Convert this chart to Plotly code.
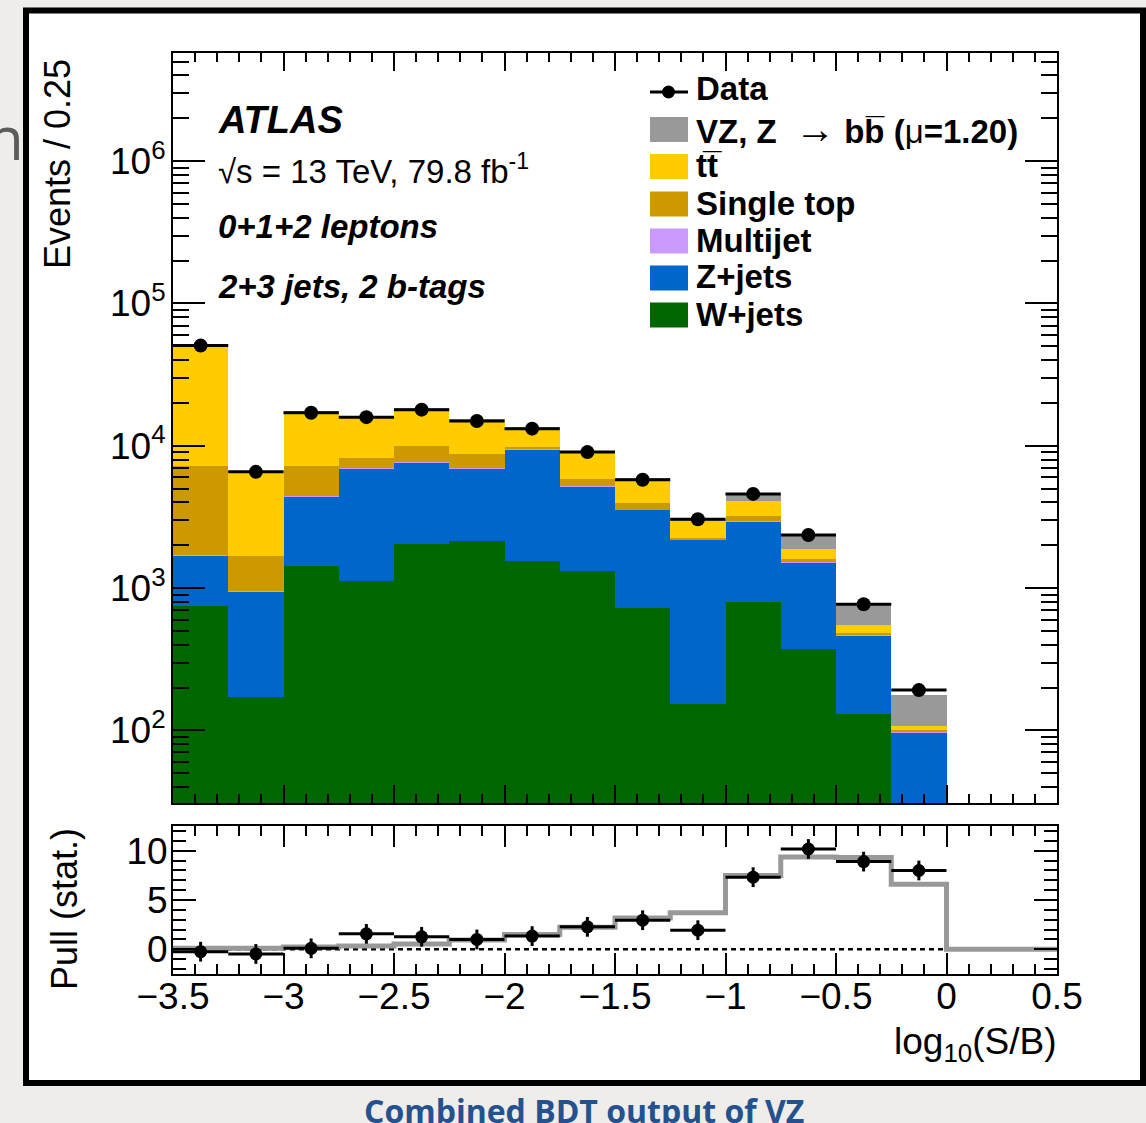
import plotly.graph_objects as go

# ---------------- data ----------------
bin_centers = [-3.375, -3.125, -2.875, -2.625, -2.375, -2.125, -1.875,
               -1.625, -1.375, -1.125, -0.875, -0.625, -0.375, -0.125]
bin_edges = [-3.5, -3.25, -3.0, -2.75, -2.5, -2.25, -2.0, -1.75, -1.5,
             -1.25, -1.0, -0.75, -0.5, -0.25, 0.0, 0.25, 0.5]

wjets = [750, 172, 1436, 1114, 2040, 2155, 1556, 1318, 720, 154, 793, 372, 131, 0]
zjets = [940, 776, 2994, 5856, 5640, 4815, 7824, 3847, 2820, 2026, 2137, 1145, 336, 97]
multijet = [25, 12, 40, 50, 50, 50, 40, 20, 20, 10, 10, 5, 3, 1]
single_top = [5545, 710, 2720, 1160, 2270, 1770, 420, 705, 410, 50, 250, 78, 17, 2]
ttbar = [44140, 4920, 10070, 7850, 8240, 6350, 3440, 3130, 1800, 740, 930, 283, 68, 7]
vz = [60, 20, 50, 60, 80, 80, 90, 100, 100, 70, 470, 457, 228, 71]
data = [50600, 6560, 17060, 15900, 17950, 14930, 13200, 9030, 5770, 3050, 4590, 2360, 771, 192]

pull_data = [-0.24, -0.47, 0.10, 1.57, 1.27, 1.00, 1.34, 2.28, 2.95, 1.94, 7.31, 10.17, 8.89, 7.99]
pull_err = [1.0, 1.0, 1.0, 1.0, 1.0, 1.0, 1.0, 1.0, 1.0, 1.0, 1.0, 1.0, 1.0, 1.0]
pull_expected = [0.10, 0.12, 0.23, 0.33, 0.53, 0.94, 1.50, 2.25, 3.18, 3.72,
                 7.48, 9.35, 9.30, 6.60, 0.0, 0.0]

y_tick_vals = [1e2, 1e3, 1e4, 1e5, 1e6]
y_tick_text = ["10<sup>2</sup>", "10<sup>3</sup>", "10<sup>4</sup>", "10<sup>5</sup>", "10<sup>6</sup>"]

# ---------------- styling ----------------
W, H = 1146, 1123
def px(x):
    return x / W
def py(y):
    return 1 - y / H

FONT = "Liberation Sans, Arial, Helvetica, sans-serif"
C_VZ = "#999999"
C_TT = "#ffcc00"
C_ST = "#cc9900"
C_MJ = "#cc99ff"
C_Z = "#0066cc"
C_W = "#006600"

fig = go.Figure()

stack = [("W+jets", wjets, C_W), ("Z+jets", zjets, C_Z), ("Multijet", multijet, C_MJ),
         ("Single top", single_top, C_ST), ("ttbar", ttbar, C_TT), ("VZ", vz, C_VZ)]
for name, vals, col in stack:
    fig.add_trace(go.Bar(x=bin_centers, y=vals, width=0.25, name=name,
                         marker=dict(color=col, line=dict(width=0)),
                         xaxis="x", yaxis="y", showlegend=False))

fig.add_trace(go.Scatter(x=bin_centers, y=data, mode="markers", name="Data",
                         marker=dict(color="black", size=14),
                         error_x=dict(type="constant", value=0.125, thickness=3,
                                      width=0, color="black"),
                         xaxis="x", yaxis="y", showlegend=False))

# pull panel
fig.add_trace(go.Scatter(x=[bin_edges[0], bin_edges[-1]], y=[0, 0], mode="lines",
                         line=dict(color="black", width=2.5, dash="5px,4px"),
                         xaxis="x2", yaxis="y2", showlegend=False, hoverinfo="skip"))
fig.add_trace(go.Scatter(x=bin_edges, y=pull_expected + [pull_expected[-1]],
                         mode="lines", line=dict(color=C_VZ, width=5, shape="hv"),
                         xaxis="x2", yaxis="y2", showlegend=False))
fig.add_trace(go.Scatter(x=bin_centers, y=pull_data, mode="markers",
                         marker=dict(color="black", size=13),
                         error_x=dict(type="constant", value=0.125, thickness=3,
                                      width=0, color="black"),
                         error_y=dict(type="data", array=pull_err, thickness=3,
                                      width=0, color="black"),
                         xaxis="x2", yaxis="y2", showlegend=False))

axis_common = dict(showline=True, linecolor="black", linewidth=2, mirror="allticks",
                   ticks="inside", tickcolor="black", tickwidth=2, showgrid=False,
                   zeroline=False, automargin=False,
                   tickfont=dict(family=FONT, size=37, color="black"))

fig.update_layout(
    width=W, height=H, margin=dict(l=0, r=0, t=0, b=0, pad=0, autoexpand=False),
    paper_bgcolor="#eeede9", plot_bgcolor="white", showlegend=False,
    barmode="stack", bargap=0,
    xaxis=dict(domain=[px(173), px(1057)], range=[-3.5, 0.5], anchor="y",
               showticklabels=False, tick0=0, dtick=0.5, ticklen=18,
               minor=dict(dtick=0.1, ticklen=9, ticks="inside", tickwidth=2,
                          tickcolor="black", showgrid=False),
               **axis_common),
    yaxis=dict(domain=[py(803), py(53)], type="log", range=[1.49, 6.76], anchor="x",
               tickmode="array", tickvals=y_tick_vals, ticktext=y_tick_text, ticklen=32,
               ticklabelstandoff=-2,
               minor=dict(dtick="D1", ticklen=16, ticks="inside", tickwidth=2,
                          tickcolor="black", showgrid=False),
               **axis_common),
    xaxis2=dict(domain=[px(173), px(1057)], range=[-3.5, 0.5], anchor="y2",
                tick0=0, dtick=0.5, ticklen=21, ticklabelstandoff=-11,
                minor=dict(dtick=0.1, ticklen=10, ticks="inside", tickwidth=2,
                           tickcolor="black", showgrid=False),
                **axis_common),
    yaxis2=dict(domain=[py(974), py(826)], range=[-2.5, 12.5], anchor="x2",
                tickmode="array", tickvals=[0, 5, 10], ticklen=23, ticklabelstandoff=-4,
                minor=dict(dtick=1, ticklen=13, ticks="inside", tickwidth=2,
                           tickcolor="black", showgrid=False),
                **axis_common),
)

shapes = []
# slide frame
shapes.append(dict(type="rect", xref="paper", yref="paper", layer="below",
                   x0=px(26), x1=px(1143), y0=py(1083), y1=py(10.5),
                   fillcolor="white", line=dict(color="black", width=6)))
annotations = []
annotations.append(dict(xref="paper", yref="paper", x=px(26), y=py(137), text="n",
                        showarrow=False, xanchor="right", yanchor="middle",
                        font=dict(family="Open Sans, Lato, sans-serif", size=60, color="#5c5c5c")))

# legend (manual)
arrow = "<span style='font-weight:normal;font-size:40px'>\u2192</span>"
mu = "<span style='font-weight:normal'>\u03bc</span>"
leg_rows = [("VZ, Z  " + arrow + " bb\u0305 (" + mu + "=1.20)", C_VZ, 129.5),
            ("tt\u0305", C_TT, 166.5),
            ("Single top", C_ST, 204),
            ("Multijet", C_MJ, 241),
            ("Z+jets", C_Z, 278),
            ("W+jets", C_W, 315)]
for label, col, yc in leg_rows:
    shapes.append(dict(type="rect", xref="paper", yref="paper",
                       x0=px(650), x1=px(688), y0=py(yc + 12.5), y1=py(yc - 12.5),
                       fillcolor=col, line=dict(width=0)))
    annotations.append(dict(xref="paper", yref="paper", x=px(694), y=py(yc - 1), text="<b>" + label + "</b>",
                            showarrow=False, xanchor="left", yanchor="middle",
                            font=dict(family=FONT, size=33, color="black")))
# Data legend
shapes.append(dict(type="line", xref="paper", yref="paper", x0=px(650), x1=px(688),
                   y0=py(92), y1=py(92), line=dict(color="black", width=3)))
shapes.append(dict(type="circle", xref="paper", yref="paper", x0=px(662), x1=px(675),
                   y0=py(98.5), y1=py(85.5), fillcolor="black", line=dict(width=0)))
annotations.append(dict(xref="paper", yref="paper", x=px(694), y=py(89), text="<b>Data</b>",
                        showarrow=False, xanchor="left", yanchor="middle",
                        font=dict(family=FONT, size=33, color="black")))

# ATLAS labels
atl = [("<b><i>ATLAS</i></b>", 120, 38),
       ("\u221as = 13 TeV, 79.8 fb<sup>-1</sup>", 169, 33),
       ("<b><i>0+1+2 leptons</i></b>", 226, 33),
       ("<b><i>2+3 jets, 2 b-tags</i></b>", 286, 33)]
for txt, yc, fs in atl:
    annotations.append(dict(xref="paper", yref="paper", x=px(216), y=py(yc), text=txt,
                            showarrow=False, xanchor="left", yanchor="middle",
                            font=dict(family=FONT, size=fs, color="black")))

# axis titles
annotations.append(dict(xref="paper", yref="paper", x=px(58), y=py(164), text="Events / 0.25",
                        textangle=-90, showarrow=False, xanchor="center", yanchor="middle",
                        font=dict(family=FONT, size=36, color="black")))
annotations.append(dict(xref="paper", yref="paper", x=px(64), y=py(909), text="Pull (stat.)",
                        textangle=-90, showarrow=False, xanchor="center", yanchor="middle",
                        font=dict(family=FONT, size=36, color="black")))
annotations.append(dict(xref="paper", yref="paper", x=px(1058), y=py(1044),
                        text="log<sub>10</sub>(S/B)", showarrow=False,
                        xanchor="right", yanchor="middle",
                        font=dict(family=FONT, size=37, color="black")))
# caption
annotations.append(dict(xref="paper", yref="paper", x=px(584), y=py(1110),
                        text="<b>Combined BDT output of VZ</b>", showarrow=False,
                        xanchor="center", yanchor="middle",
                        font=dict(family="Open Sans, sans-serif", size=32, color="#24528f")))

fig.update_layout(shapes=shapes, annotations=annotations)
fig.write_html("out.html")
